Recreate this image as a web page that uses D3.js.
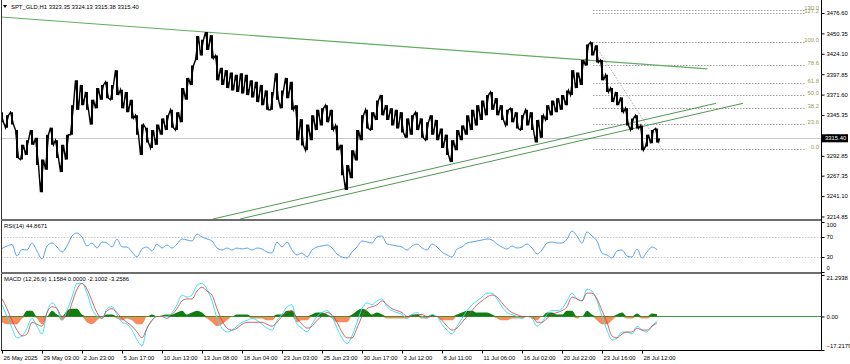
<!DOCTYPE html>
<html>
<head>
<meta charset="utf-8">
<script src="https://cdn.jsdelivr.net/npm/d3@7"></script>
<style>
  body { margin: 0; background: #fff; }
  svg text { font-family: "Liberation Sans", Arial, sans-serif; font-size: 5.9px; fill: #000; }
</style>
</head>
<body>
<svg id="chart" width="850" height="364"></svg>
<script>
// ---- data (one bucket ~ 5 px of H1 bars) ----
const priceHigh = [
  3349,3345,3349,3326,3307,3313,3326,3316,3288,3320,
  3329,3313,3307,3320,3358,3390,3384,3375,3365,3380,
  3384,3388,3384,3403,3378,3375,3365,3345,3333,3329,
  3326,3333,3341,3345,3352,3349,3380,3393,3409,3447,
  3442,3452,3448,3422,3406,3403,3400,3397,3399,3397,
  3390,3388,3384,3377,3375,3399,3377,3393,3388,3358,
  3340,3333,3345,3352,3354,3358,3352,3332,3307,3281,
  3300,3326,3345,3352,3349,3364,3371,3358,3354,3352,
  3349,3341,3345,3349,3341,3336,3345,3339,3328,3320,
  3313,3326,3332,3345,3352,3358,3364,3371,3375,3367,
  3358,3352,3354,3349,3345,3352,3349,3339,3345,3358,
  3364,3367,3371,3377,3403,3400,3416,3436,3439,3435,
  3416,3397,3380,3375,3368,3354,3341,3345,3332,3320,
  3326,3328
];
const priceLow = [
  3336,3329,3333,3290,3288,3294,3307,3281,3246,3275,
  3307,3290,3272,3288,3320,3352,3358,3352,3333,3354,
  3365,3367,3365,3371,3354,3349,3341,3320,3294,3310,
  3303,3307,3320,3326,3329,3326,3336,3365,3384,3416,
  3422,3429,3418,3390,3384,3380,3377,3375,3373,3371,
  3368,3362,3358,3352,3352,3365,3354,3367,3352,3313,
  3306,3300,3313,3326,3332,3336,3326,3300,3268,3249,
  3264,3287,3313,3328,3326,3339,3345,3339,3332,3328,
  3323,3316,3320,3326,3316,3313,3320,3313,3303,3294,
  3285,3300,3313,3320,3326,3332,3339,3345,3352,3345,
  3339,3332,3336,3328,3326,3332,3326,3310,3316,3339,
  3345,3349,3352,3358,3371,3380,3384,3409,3422,3413,
  3390,3375,3362,3358,3349,3332,3326,3328,3300,3305,
  3309,3310
];
const lastClose = 3315.40;
const header = 'SPT_GLD,H1  3323.35 3324.13 3315.38 3315.40';

const rsiValues = [
  47,52,55,32,45,44,58,42,26,52,
  58,50,40,52,72,78,70,52,58,48,
  60,58,50,66,50,50,40,30,46,50,
  42,56,48,54,48,56,66,64,62,76,
  70,66,62,48,44,48,44,48,46,48,
  44,48,46,40,38,60,50,60,44,34,
  38,30,44,50,52,54,48,36,30,28,
  40,50,62,60,58,70,72,56,54,52,
  50,44,52,56,48,44,56,50,40,34,
  30,46,50,58,60,62,64,66,64,56,
  50,46,52,48,50,56,48,36,44,58,
  60,58,58,66,82,72,58,80,72,62,
  38,34,28,42,44,32,30,46,28,40,
  50,44.87
];
const rsiLevels = [70, 30];
const rsiTicks = [100, 70, 30, 0];

const macdMain = [
  6,0,-6,-11,-10,-6,-1,-5,-9,2,
  7,4,-2,3,10,17,17,12,4,0,
  -1,4,5,1,-3,-4,-7,-12,-15,-6,
  -2,0,0,0,2,6,11,10,11,16,
  17,14,8,-1,-6,-8,-7,-5,-3,-2,
  -1,-2,-4,-6,-7,-2,1,5,6,-4,
  -6,-8,-4,0,2,3,0,-6,-11,-14,
  -10,-3,4,7,6,8,9,5,3,2,
  1,-1,1,2,0,-1,1,0,-4,-7,
  -9,-5,-1,3,6,8,10,12,12,9,
  5,2,1,0,-1,0,-1,-5,-3,1,
  3,3,4,8,12,9,8,14,13,8,
  0,-7,-12,-11,-8,-8,-9,-5,-7,-8,
  -5,-2.1
];
const macdSignal = [
  9,4,-2,-7,-10,-9,-3,-4,-5,2,
  5,4,0,0,7,14,17,14,8,2,
  -1,3,4,2,-1,-3,-5,-8,-11,-6,
  -2,0,0,-1,1,4,8,9,9,13,
  15,13,11,4,-2,-6,-7,-6,-4,-3,
  -3,-3,-3,-4,-5,-3,0,2,3,-1,
  -4,-6,-5,-2,0,2,1,-3,-8,-11,
  -11,-6,0,4,5,6,8,6,4,3,
  2,0,0,1,1,0,0,0,-2,-5,
  -7,-6,-3,0,3,6,8,10,11,10,
  7,4,2,1,0,0,0,-3,-3,-1,
  1,2,3,5,10,9,8,12,12,9,
  3,-3,-10,-11,-9,-8,-8,-6,-7,-7,
  -5,-3.26
];
const macdHist = [
  -3,-4,-4,-4,-1,3,3,-1,-4,0,
  3,1,-2,3,4,4,1,-3,-4,-2,
  0,1,1,-1,-2,-1,-2,-4,-4,0,
  1,0,0.5,1,1,2,3,1,2,3,
  2,-1,-3,-5,-4,-2,0,1,1,1,
  -1,-1,-1,-2,-2,1,1,3,3,-3,
  -2,-2,1,2,2,1,-1,-3,-3,-3,
  1,3,4,3,1,2,1,-1,-1,-1,
  -1,-1,1,1,-1,-1,1,0,-2,-2,
  -2,1,2,3,3,2,2,2,1,-1,
  -2,-2,-1,-1,-1,0,-1,-2,0,2,
  2,1,1,3,3,-1,0,3,1,-2,
  -4,-4,-2,1,2,-1,-1,1.5,-1,-1,
  1.5,1.16
];
const macdTitle = 'MACD  (12,26,9) 1.1584 0.0000 -2.1002 -3.2586';
const macdTicks = [21.2938, 0, -17.2179];

const priceTicks = [3476.60, 3450.35, 3424.10, 3397.85, 3371.60, 3345.35, 3319.10, 3292.85, 3267.35, 3241.10, 3214.85];

const timeLabels = ['26 May 2025', '29 May 03:00', '2 Jun 23:00', '5 Jun 17:00', '10 Jun 13:00', '13 Jun 08:00',
  '18 Jun 04:00', '23 Jun 03:00', '25 Jun 23:00', '30 Jun 17:00', '3 Jul 12:00', '8 Jul 11:00',
  '11 Jul 06:00', '16 Jul 02:00', '20 Jul 22:00', '23 Jul 16:00', '28 Jul 12:00'];
const timeTickIdx = [0, 8, 16, 24, 32, 40, 48, 56, 64, 72, 80, 88, 96, 104, 112, 120, 128];

// fibonacci drawn from the 23 Jul high to the 29 Jul low
const fibHigh = 3439.3, fibLow = 3301.7;
const fibStartIdx = 118.2, fibEndIdx = 132;
const fibLevels = [0, 23.6, 38.2, 50, 61.8, 78.6, 100, 127.2, 130.0];
const fibLabels = ['0.0', '23.6', '38.2', '50.0', '61.8', '78.6', '100.0', '127.2', '130.0'];

// trend lines: [startIdx, startPrice, endIdx, endPrice]
const trendLines = [
  [-0.4, 3471.5, 141.1, 3404.6],
  [42.2, 3211.6, 142.8, 3360.4],
  [47.6, 3211.6, 148.2, 3360.4]
];

// ---- layout ----
const svg = d3.select('#chart');
const axisX = 821;
const mainP = { top: 1, bottom: 219 };
const rsiP = { top: 221, bottom: 272 };
const macdP = { top: 274, bottom: 350 };

const x = d3.scaleLinear().domain([0, 164]).range([2, 822]);
const yP = d3.scaleLinear().domain([3211.6, 3492.0]).range([mainP.bottom, mainP.top]);
const yR = d3.scaleLinear().domain([0, 100]).range([rsiP.bottom, rsiP.top + 1]);
const yM = d3.scaleLinear().domain([-17.2179, 21.2938]).range([macdP.bottom, macdP.top + 1]);

const defs = svg.append('defs');
[['clipMain', mainP], ['clipRsi', rsiP], ['clipMacd', macdP]].forEach(([id, p]) => {
  defs.append('clipPath').attr('id', id).append('rect')
    .attr('x', 1.5).attr('y', p.top).attr('width', axisX - 1.5).attr('height', p.bottom - p.top);
});

// --- main panel ---
const gMain = svg.append('g').attr('clip-path', 'url(#clipMain)');

// current price line
gMain.append('line')
  .attr('x1', 1).attr('x2', axisX)
  .attr('y1', Math.round(yP(lastClose)) + 0.5).attr('y2', Math.round(yP(lastClose)) + 0.5)
  .attr('stroke', '#c8c8c8').attr('stroke-width', 1);

// fibonacci levels
fibLevels.forEach((lv, i) => {
  const p = fibLow + (fibHigh - fibLow) * lv / 100;
  const yy = Math.round(yP(p)) + 0.5;
  gMain.append('line')
    .attr('x1', x(fibStartIdx)).attr('x2', 806)
    .attr('y1', yy).attr('y2', yy)
    .attr('stroke', '#8a8a8a').attr('stroke-width', 0.8).attr('stroke-dasharray', '1.5,1.5');
  gMain.append('text')
    .attr('x', 819).attr('y', yy - 1)
    .attr('text-anchor', 'end')
    .style('fill', '#9a9a60')
    .text(fibLabels[i]);
});
gMain.append('line')
  .attr('x1', x(fibStartIdx)).attr('y1', yP(fibHigh))
  .attr('x2', x(fibEndIdx)).attr('y2', yP(fibLow))
  .attr('stroke', '#9a9a9a').attr('stroke-width', 0.8).attr('stroke-dasharray', '1.5,1.5');

// trend lines
trendLines.forEach((t, i) => {
  gMain.append('line')
    .attr('x1', x(t[0])).attr('y1', yP(t[1]))
    .attr('x2', x(t[2])).attr('y2', yP(t[3]))
    .attr('stroke', i === 0 ? '#5fae5f' : '#3c8c3c')
    .attr('stroke-width', i === 0 ? 1.2 : 0.9);
});

// price bars
const pricePts = [];
priceHigh.forEach((h, i) => {
  const l = priceLow[i];
  const next = i < priceHigh.length - 1 ? (priceHigh[i + 1] + priceLow[i + 1]) / 2 : lastClose;
  const xi = x(i);
  if (next > (h + l) / 2) pricePts.push([xi - 1.5, yP(l)], [xi + 1.5, yP(h)]);
  else pricePts.push([xi - 1.5, yP(h)], [xi + 1.5, yP(l)]);
});
pricePts.push([x(priceHigh.length - 1) + 2.5, yP(lastClose)]);
gMain.append('path')
  .attr('d', d3.line()(pricePts))
  .attr('fill', 'none').attr('stroke', '#000').attr('stroke-width', 1.4);
gMain.selectAll('.bar')
  .data(priceHigh)
  .enter().append('line')
  .attr('x1', (d, i) => x(i)).attr('x2', (d, i) => x(i))
  .attr('y1', d => yP(d)).attr('y2', (d, i) => yP(priceLow[i]))
  .attr('stroke', '#000').attr('stroke-width', 2);

// header
svg.append('path').attr('d', 'M3,5 L7,5 L5,8 Z').attr('fill', '#000');
svg.append('text').attr('x', 11).attr('y', 9).text(header);

// --- RSI panel ---
const gRsi = svg.append('g').attr('clip-path', 'url(#clipRsi)');
rsiLevels.forEach(lv => {
  gRsi.append('line')
    .attr('x1', 1).attr('x2', axisX)
    .attr('y1', Math.round(yR(lv)) + 0.5).attr('y2', Math.round(yR(lv)) + 0.5)
    .attr('stroke', '#b8b8b8').attr('stroke-width', 0.8).attr('stroke-dasharray', '1.5,1.5');
});
gRsi.append('path')
  .attr('d', d3.line().x((d, i) => x(i)).y(d => yR(d)).curve(d3.curveMonotoneX)(rsiValues))
  .attr('fill', 'none').attr('stroke', '#4a98e6').attr('stroke-width', 0.9);
svg.append('text').attr('x', 4).attr('y', 228).text('RSI(14) 44.8671');

// --- MACD panel ---
const gMacd = svg.append('g').attr('clip-path', 'url(#clipMacd)');
const histArea = (fn) => d3.area()
  .x((d, i) => x(i)).y0(yM(0)).y1(d => yM(fn(d, 0)))
  .curve(d3.curveMonotoneX);
gMacd.append('path').attr('d', histArea(Math.max)(macdHist)).attr('fill', '#0f7d0f');
gMacd.append('path').attr('d', histArea(Math.min)(macdHist)).attr('fill', '#f98a5a');
gMacd.append('line')
  .attr('x1', 1).attr('x2', axisX).attr('y1', yM(0)).attr('y2', yM(0))
  .attr('stroke', '#0f7d0f').attr('stroke-width', 0.8);
gMacd.append('path')
  .attr('d', d3.line().x((d, i) => x(i)).y(d => yM(d)).curve(d3.curveMonotoneX)(macdMain))
  .attr('fill', 'none').attr('stroke', '#3fe0f0').attr('stroke-width', 1);
gMacd.append('path')
  .attr('d', d3.line().x((d, i) => x(i)).y(d => yM(d)).curve(d3.curveMonotoneX)(macdSignal))
  .attr('fill', 'none').attr('stroke', '#c84040').attr('stroke-width', 0.8);
svg.append('text').attr('x', 4).attr('y', 281).text(macdTitle);

// --- frames ---
svg.append('line').attr('x1', 1.5).attr('x2', 1.5).attr('y1', 0).attr('y2', macdP.bottom).attr('stroke', '#333');
[mainP.bottom, rsiP.bottom].forEach(yy => {
  svg.append('rect').attr('x', 1).attr('y', yy).attr('width', axisX - 1).attr('height', 2).attr('fill', '#6e6e6e');
});
svg.append('line').attr('x1', 1).attr('x2', axisX + 0.5).attr('y1', macdP.bottom + 0.5).attr('y2', macdP.bottom + 0.5).attr('stroke', '#000');

// --- right axes ---
const priceAxis = svg.append('g')
  .attr('transform', `translate(${axisX + 0.5},0)`)
  .call(d3.axisRight(yP).tickValues(priceTicks).tickSize(3).tickFormat(d3.format('.2f')));
priceAxis.select('.domain').remove();
priceAxis.selectAll('text').attr('x', 5).style('font-size', '5.9px').style('font-family', null);
svg.append('line').attr('x1', axisX + 0.5).attr('x2', axisX + 0.5).attr('y1', 0).attr('y2', macdP.bottom + 1).attr('stroke', '#000');

function sideAxis(scale, ticks, fmt, top, bottom) {
  const g = svg.append('g')
    .attr('transform', `translate(${axisX + 0.5},0)`)
    .call(d3.axisRight(scale).tickValues(ticks).tickSize(3).tickFormat(fmt));
  g.select('.domain').remove();
  g.selectAll('text').attr('x', 5).style('font-size', '5.9px').style('font-family', null);
  // keep edge labels inside their panel
  g.selectAll('.tick').each(function (d) {
    const yy = scale(d);
    const t = d3.select(this).select('text');
    if (yy < top + 4) t.attr('y', top + 4 - yy);
    if (yy > bottom - 4) t.attr('y', bottom - 4 - yy);
  });
}
sideAxis(yR, rsiTicks, d3.format('d'), rsiP.top, rsiP.bottom);
sideAxis(yM, macdTicks, d => d === 0 ? '0.00' : d3.format('.4f')(d), macdP.top, macdP.bottom);

// current price tag
const tagY = yP(lastClose);
svg.append('rect').attr('x', axisX + 1).attr('y', tagY - 4).attr('width', 26).attr('height', 8).attr('fill', '#000');
svg.append('text').attr('x', axisX + 4).attr('y', tagY + 2.2).style('fill', '#fff').text(lastClose.toFixed(2));

// --- time axis ---
const timeAxis = svg.append('g')
  .attr('transform', `translate(0,${macdP.bottom + 0.5})`)
  .call(d3.axisBottom(x).tickValues(timeTickIdx).tickSize(3).tickFormat((d, i) => timeLabels[i]));
timeAxis.select('.domain').remove();
timeAxis.selectAll('text')
  .attr('text-anchor', 'start').attr('x', 1).attr('y', 5.5).attr('dy', '0.71em')
  .style('font-size', '5.9px').style('font-family', null);
</script>
</body>
</html>
